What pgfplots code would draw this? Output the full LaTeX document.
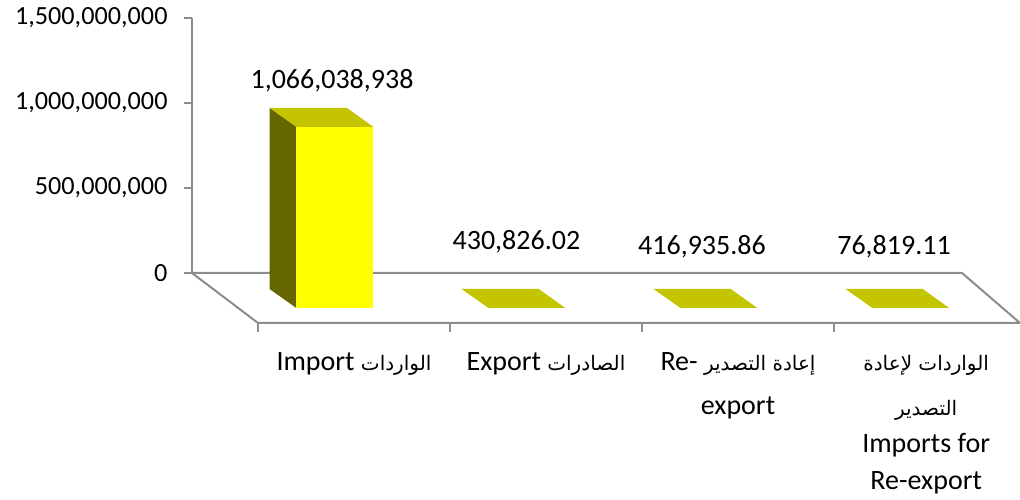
\documentclass[border=0pt]{standalone}
\usepackage{fontspec}
\usepackage{pgfplots}
\pgfplotsset{compat=1.18}
\setmainfont{Carlito}
\newfontfamily\arabicfont[Script=Arabic]{DejaVu Sans}
\TeXXeTstate=1
\definecolor{gridg}{HTML}{8C8C8C}
\definecolor{topc}{HTML}{C4C400}
\definecolor{sidec}{HTML}{666600}
\definecolor{barc}{HTML}{FFFF00}
\newcommand{\arf}{\arabicfont\fontsize{20}{24}\selectfont}
\begin{document}
\begin{tikzpicture}[x=1pt,y=1pt]
\path[use as bounding box] (0,0) rectangle (1020,500);
\begin{axis}[
  at={(192pt,177pt)}, anchor=south west,
  scale only axis, width=828pt, height=305pt,
  xmin=-0.34375, xmax=3.96875, ymin=-294117647, ymax=1500000000,
  clip=false, axis line style={draw=none},
  ytick={0,500000000,1000000000,1500000000},
  scaled y ticks=false,
  yticklabel style={/pgf/number format/fixed,/pgf/number format/precision=0,
    /pgf/number format/1000 sep={,},/pgf/number format/assume math mode=true,
    anchor=east, xshift=-13pt, font=\fontsize{26.2}{30}\selectfont},
  xtick={0.5,1.5,2.5,3.48},
  minor xtick={0,1,2,3},
  xticklabels={
    {Import {\arf\beginR الواردات\endR}},
    {Export {\arf\beginR الصادرات\endR}},
    {Re- {\arf\beginR إعادة التصدير\endR}\\[14pt]export},
    {\rule{0pt}{18pt}{\arf\beginR الواردات لإعادة\endR}\\[15pt]{\arf\beginR التصدير\endR}\\[7pt]Imports for\\[7pt]Re-export}},
  xticklabel style={align=center, anchor=north, yshift=-18pt, font=\fontsize{28}{30}\selectfont},
  tick style={draw=gridg, line width=2pt},
  major tick length=8pt, minor tick length=9pt,
  xtick style={draw=none}, minor x tick style={draw=gridg, line width=2pt},
  ytick pos=left, xtick pos=bottom,
  ytick align=outside, xtick align=outside,
]
% axis frame
\addplot[gridg, line width=2pt, forget plot] coordinates {(-0.34375,1500000000) (-0.34375,0)};
\addplot[gridg, line width=2pt, forget plot] coordinates {(-0.34375,0) (3.6667,0) (3.96875,-294117647) (0,-294117647) (-0.34375,0)};
% bar 1: Import 1,066,038,938
\addplot[fill=sidec, draw=none, forget plot] coordinates {(0.06,-94117647) (0.2,-205882353) (0.2,860156585) (0.06,971921291)} -- cycle;
\addplot[fill=topc, draw=none, forget plot] coordinates {(0.06,971921291) (0.462,971921291) (0.6,860156585) (0.2,860156585)} -- cycle;
\addplot[fill=barc, draw=none, forget plot] coordinates {(0.2,-205882353) (0.6,-205882353) (0.6,860156585) (0.2,860156585)} -- cycle;
% bar 2: Export 430,826.02
\addplot[fill=topc, draw=none, forget plot] coordinates {(1.06,-93686821) (1.462,-93686821) (1.6,-205451527) (1.2,-205451527)} -- cycle;
% bar 3: Re-export 416,935.86
\addplot[fill=topc, draw=none, forget plot] coordinates {(2.06,-93700711) (2.462,-93700711) (2.6,-205465417) (2.2,-205465417)} -- cycle;
% bar 4: Imports for Re-export 76,819.11
\addplot[fill=topc, draw=none, forget plot] coordinates {(3.06,-94040828) (3.462,-94040828) (3.6,-205805534) (3.2,-205805534)} -- cycle;
\node[font=\fontsize{28}{30}\selectfont] at (axis cs:0.3854,1129000000) {1,066,038,938};
\node[font=\fontsize{28}{30}\selectfont] at (axis cs:1.346,182000000) {430,826.02};
\node[font=\fontsize{28}{30}\selectfont] at (axis cs:2.3125,155000000) {416,935.86};
\node[font=\fontsize{28}{30}\selectfont] at (axis cs:3.3125,155000000) {76,819.11};
\end{axis}
\end{tikzpicture}
\end{document}
